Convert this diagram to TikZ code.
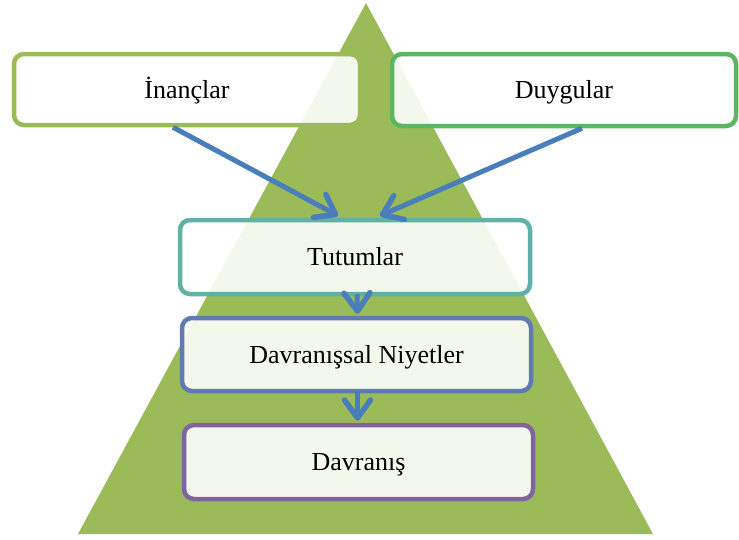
\documentclass[tikz,border=0pt]{standalone}
\usepackage{fontspec}
\setmainfont{Liberation Serif}
\usetikzlibrary{arrows.meta,calc}
\definecolor{tri}{HTML}{9BBB59}
\definecolor{cA}{HTML}{9BBB59}
\definecolor{cB}{HTML}{5CB561}
\definecolor{cC}{HTML}{5FB1A5}
\definecolor{cD}{HTML}{5F7BAF}
\definecolor{cE}{HTML}{8064A2}
\definecolor{arr}{HTML}{4A7EBB}
\begin{document}
\begin{tikzpicture}[x=1pt,y=-1pt,
  box/.style={draw, line width=4.5pt, rounded corners=10pt, fill=white, fill opacity=0.89, text opacity=1, inner sep=0pt, text height=18pt, text depth=0.5pt, font=\fontsize{26}{30}\selectfont},
  conn/.style={draw=arr, line width=5pt, -{Straight Barb[length=18pt,width=26pt,line width=5.5pt,round]}}]
\useasboundingbox (0,0) rectangle (739,539);
\fill[tri] (366,3) -- (653,534) -- (78,534) -- cycle;
\node[box, draw=cA, minimum width=346pt, minimum height=71pt] (inanc) at (187,89.5) {İnançlar};
\node[box, draw=cB, minimum width=344pt, minimum height=72pt] (duyg) at (564,90) {Duygular};
\node[box, draw=cC, minimum width=350pt, minimum height=74pt] (tutum) at (355,257) {Tutumlar};
\node[box, draw=cD, minimum width=349pt, minimum height=73pt] (niyet) at (356.5,354.5) {Davranışsal Niyetler};
\node[box, draw=cE, minimum width=349pt, minimum height=74pt] (davr) at (358.5,462) {Davranış};
\draw[conn] ([xshift=-14pt]inanc.south) -- ([xshift=-17pt,yshift=2pt]tutum.north);
\draw[conn] ([xshift=18pt]duyg.south) -- ([xshift=25pt,yshift=2pt]tutum.north);
\draw[conn] ([xshift=2pt,yshift=2pt]tutum.south) -- ([xshift=1pt,yshift=2pt]niyet.north);
\draw[conn] ([xshift=1pt,yshift=2pt]niyet.south) -- ([xshift=-1pt,yshift=2pt]davr.north);
\end{tikzpicture}
\end{document}
